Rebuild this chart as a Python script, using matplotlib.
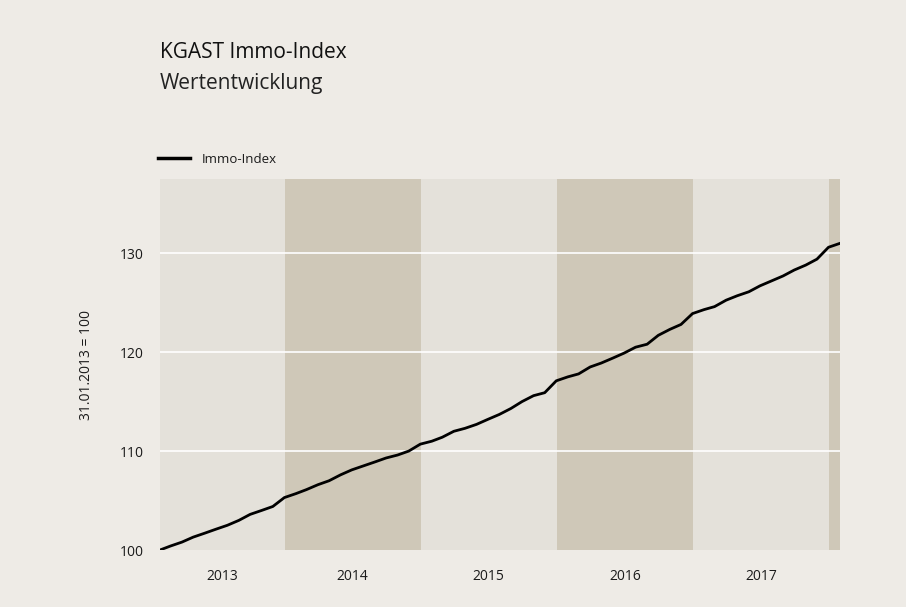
import numpy as np
import pandas as pd
import matplotlib
matplotlib.use("Agg")
import matplotlib.pyplot as plt
import matplotlib.dates as mdates

# monthly index values, 31.01.2013 = 100
index_values = [
    100.0, 100.4, 100.8, 101.3, 101.7, 102.1, 102.5, 103.0, 103.6, 104.0, 104.4, 105.3,
    105.7, 106.1, 106.6, 107.0, 107.6, 108.1, 108.5, 108.9, 109.3, 109.6, 110.0, 110.7,
    111.0, 111.4, 112.0, 112.3, 112.7, 113.2, 113.7, 114.3, 115.0, 115.6, 115.9, 117.1,
    117.5, 117.8, 118.5, 118.9, 119.4, 119.9, 120.5, 120.8, 121.7, 122.3, 122.8, 123.9,
    124.3, 124.6, 125.25, 125.7, 126.1, 126.7, 127.2, 127.7, 128.3, 128.8, 129.4, 130.6,
    131.0,
]
dates = pd.date_range("2013-01-31", periods=len(index_values), freq="ME")
years = [2013, 2014, 2015, 2016, 2017, 2018]
year_labels = ["2013", "2014", "2015", "2016", "2017"]
y_ticks = [100, 110, 120, 130]

BG = "#eeebe6"
LIGHT = "#e4e1da"
DARK = "#cfc8b8"

plt.rcParams["font.family"] = ["Open Sans", "DejaVu Sans"]

fig = plt.figure(figsize=(9.06, 6.07), dpi=100, facecolor=BG)
ax = fig.add_axes([0.1766, 0.0939, 0.7506, 0.6112])
ax.set_facecolor(LIGHT)

x0, x1 = dates[0], dates[-1]
for k, yr in enumerate(years):
    start = max(pd.Timestamp(f"{yr}-01-01"), x0)
    end = min(pd.Timestamp(f"{yr + 1}-01-01"), x1)
    ax.axvspan(start, end, color=LIGHT if k % 2 == 0 else DARK, lw=0, zorder=0)

for y in y_ticks[1:]:
    ax.axhline(y, color="white", lw=1.2, zorder=1)

ax.plot(dates, index_values, color="black", lw=2.0, zorder=3,
        solid_joinstyle="round", label="Immo-Index")

ax.set_xlim(x0, x1)
ax.set_ylim(100, 137.5)
ax.set_yticks(y_ticks)
ax.tick_params(axis="y", length=0, pad=12, labelsize=10, colors="#1a1a1a")

# year labels centred in the visible part of each band
centres = []
for yr in years[:-1]:
    start = max(pd.Timestamp(f"{yr}-01-01"), x0)
    end = min(pd.Timestamp(f"{yr + 1}-01-01"), x1)
    centres.append(start + (end - start) / 2)
ax.set_xticks([mdates.date2num(c) for c in centres])
ax.set_xticklabels(year_labels)
ax.tick_params(axis="x", length=0, pad=14, labelsize=10, colors="#1a1a1a")

for s in ax.spines.values():
    s.set_visible(False)

ax.set_ylabel("31.01.2013 = 100", fontsize=10, color="#1a1a1a", labelpad=18)

fig.text(160 / 906, 1 - 53 / 607, "KGAST Immo-Index", fontsize=15,
         color="#111111", ha="left", va="center")
fig.text(160 / 906, 1 - 83 / 607, "Wertentwicklung", fontsize=15,
         color="#222222", ha="left", va="center")

leg = ax.legend(loc="lower left", bbox_to_anchor=(-0.022, 1.0), frameon=False,
                fontsize=9.5, handlelength=2.4, handletextpad=0.9, borderaxespad=0.6)
for line in leg.get_lines():
    line.set_linewidth(2.5)
for t in leg.get_texts():
    t.set_color("#1a1a1a")

fig.savefig("out.png", dpi=100, facecolor=BG)
